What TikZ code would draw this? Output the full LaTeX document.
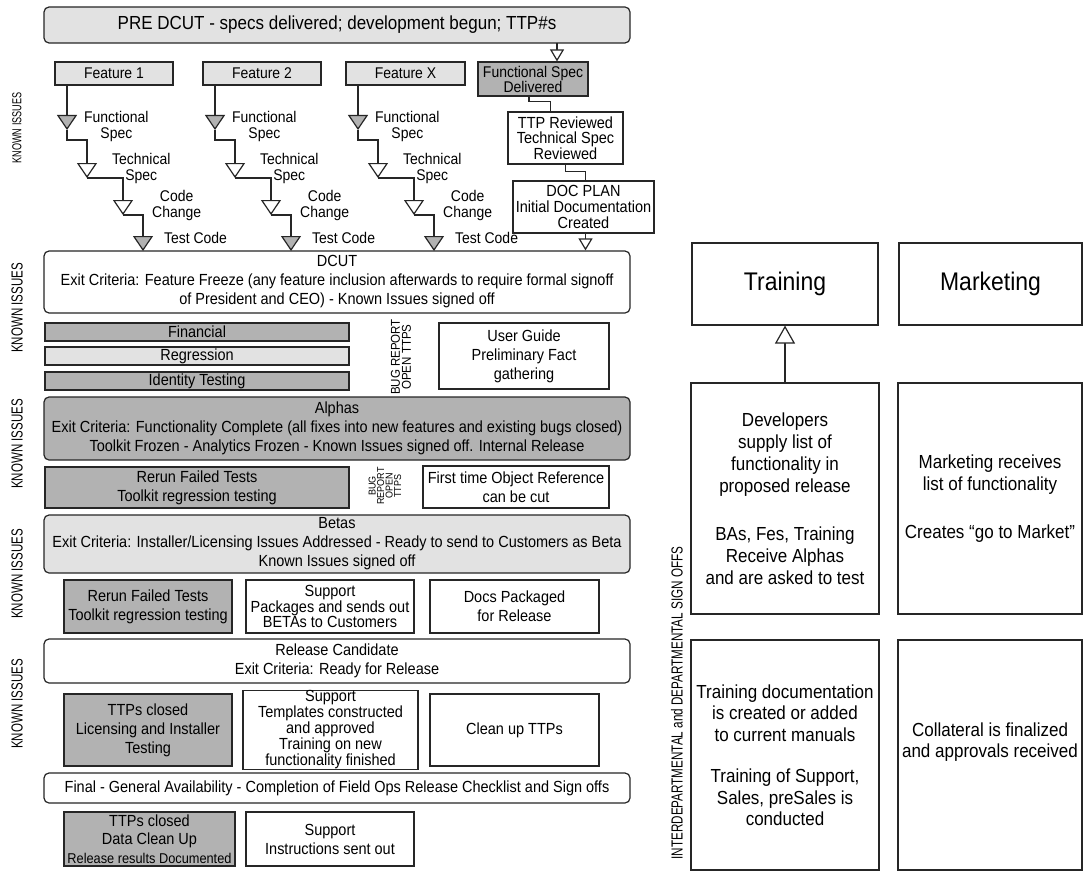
\documentclass[tikz,border=0pt]{standalone}
\usepackage{fontspec}
\usepackage{graphicx}
\setmainfont{Liberation Sans}[FakeStretch=0.9]
\newfontfamily\plainfont{Liberation Sans}
\usetikzlibrary{arrows.meta}
\newcommand{\fs}[2]{\fontsize{#1}{#2}\selectfont}
\definecolor{lightfill}{HTML}{E2E2E2}
\definecolor{darkfill}{HTML}{B2B2B2}
\definecolor{ink}{HTML}{262626}
\newcommand{\stair}[2]{%
  \coordinate (#1s) at (#2,85);
  \coordinate (#1t1) at (#2,130);
  \coordinate (#1t2) at ({#2+20},178);
  \coordinate (#1t3) at ({#2+56},215);
  \coordinate (#1t4) at ({#2+76},251);
  \draw[grayarrow] (#1s) -- (#1t1);
  \draw[whitearrow] (#1t1) -- ++(0,10) -| (#1t2);
  \draw[whitearrow] (#1t2) -| (#1t3);
  \draw[grayarrow] (#1t3) -| (#1t4);
  \node[steplbl] (#1fs) at ({#2+17},126) {Functional\\Spec};
  \node[steplbl] (#1ts) at ({#2+45},168) {Technical\\Spec};
  \node[steplbl] (#1cc) at ({#2+85},205) {Code\\Change};
  \node[steplbl] (#1tc) at ({#2+97},238) {Test Code};
}
\begin{document}
\begin{tikzpicture}[x=1pt,y=-1pt,
  box/.style={draw=ink, line width=1.2pt, inner sep=0pt, align=center, font=\fs{16.1}{19}, text=black},
  lt/.style={fill=lightfill}, dk/.style={fill=darkfill}, wt/.style={fill=white},
  phase/.style={box, rounded corners=5pt, minimum width=586pt},
  conn/.style={draw=ink, line width=1.2pt},
  grayarrow/.style={conn, -{Triangle[length=15pt,width=20pt,fill=darkfill]}},
  whitearrow/.style={conn, -{Triangle[length=15pt,width=20pt,fill=white]}},
  openarrow/.style={conn, -{Triangle[length=12pt,width=14pt,fill=white]}},
  bigopen/.style={conn, -{Triangle[length=18pt,width=20pt,fill=white]}},
  steplbl/.style={font=\fs{15.5}{16}, align=center, anchor=west, inner sep=0pt},
  sidelbl/.style={rotate=90, inner sep=0pt, font=\plainfont\fs{16}{16}},
  rbox/.style={box, fill=white, font=\fs{18.9}{22}}
]
\fill[white] (0,0) rectangle (1084,872);
\useasboundingbox (0,0) rectangle (1084,872);

% top
\node[phase, lt, minimum height=36pt, font=\fs{18.9}{20}] (pre) at (337,25) {PRE DCUT - specs delivered; development begun; TTP\#s};
\node[box, lt, minimum width=118pt, minimum height=23pt, font=\fs{15.5}{16}] (f1) at (114,73.5) {Feature 1};
\node[box, lt, minimum width=118pt, minimum height=23pt, font=\fs{15.5}{16}] (f2) at (262,73.5) {Feature 2};
\node[box, lt, minimum width=119pt, minimum height=23pt, font=\fs{15.5}{16}] (fx) at (405.5,73.5) {Feature X};
\node[box, dk, minimum width=110pt, minimum height=34pt, font=\fs{15.5}{15}] (fsd) at (533,79) {Functional Spec\\Delivered};
\node[box, wt, minimum width=115pt, minimum height=52pt, font=\fs{16.1}{15.5}] (ttp) at (565.5,138) {TTP Reviewed\\Technical Spec\\Reviewed};
\node[box, wt, minimum width=141pt, minimum height=52pt, font=\fs{16.1}{16}] (doc) at (583.5,207) {DOC PLAN\\Initial Documentation\\Created};

\stair{f1}{67}
\stair{f2}{215}
\stair{fx}{358}

\coordinate (preout) at (557,43);
\draw[openarrow] (preout) -- (preout |- fsd.north);
\draw[conn] ([xshift=-4pt]fsd.south) |- ([xshift=-15pt,yshift=10pt]ttp.north) -- ([xshift=-15pt]ttp.north);
\draw[conn] (ttp.south) |- ([xshift=2pt,yshift=9pt]doc.north) -- ([xshift=2pt]doc.north);
\coordinate (docout) at (585.5,233);

% DCUT
\node[phase, wt, minimum height=62pt] (dcut) at (337,282) {DCUT\\Exit Criteria: Feature Freeze (any feature inclusion afterwards to require formal signoff\\of President and CEO) - Known Issues signed off};
\draw[openarrow] (docout) -- (docout |- dcut.north);

\node[box, dk, minimum width=304pt, minimum height=18pt] (fin) at (197,332) {Financial};
\node[box, lt, minimum width=304pt, minimum height=18pt] (reg) at (197,356) {Regression};
\node[box, dk, minimum width=304pt, minimum height=18pt] (idt) at (197,381) {Identity Testing};
\node[rotate=90, inner sep=0pt, align=center, font=\fs{12.8}{11}] (bug1) at (401,357) {BUG REPORT\\OPEN TTPS};
\node[box, wt, minimum width=170pt, minimum height=66pt] (ug) at (524,356) {User Guide\\Preliminary Fact\\gathering};

% Alphas
\node[phase, dk, minimum height=63pt] (alpha) at (337,428.5) {Alphas\\Exit Criteria: Functionality Complete (all fixes into new features and existing bugs closed)\\Toolkit Frozen - Analytics Frozen - Known Issues signed off. Internal Release};
\node[box, dk, minimum width=304pt, minimum height=41pt] (rerun1) at (197,487.5) {Rerun Failed Tests\\Toolkit regression testing};
\node[rotate=90, inner sep=0pt, align=center, font=\fs{10}{8.5}] (bug2) at (385,486) {BUG\\REPORT\\OPEN\\TTPS};
\node[box, wt, minimum width=186pt, minimum height=42pt] (ftor) at (516,487) {First time Object Reference\\can be cut};

% Betas
\node[phase, lt, minimum height=58pt] (beta) at (337,544) {Betas\\Exit Criteria: Installer/Licensing Issues Addressed - Ready to send to Customers as Beta\\Known Issues signed off};
\node[box, dk, minimum width=168pt, minimum height=53pt] (rerun2) at (148,606.5) {Rerun Failed Tests\\Toolkit regression testing};
\node[box, wt, minimum width=168pt, minimum height=53pt, font=\fs{16.1}{15.5}] (supp1) at (330,606.5) {Support\\Packages and sends out\\BETAs to Customers};
\node[box, wt, minimum width=169pt, minimum height=53pt] (docs) at (514.5,606.5) {Docs Packaged\\for Release};

% Release candidate
\node[phase, wt, minimum height=44pt] (rc) at (337,661) {Release Candidate\\Exit Criteria: Ready for Release};
\node[box, dk, minimum width=168pt, minimum height=72pt] (ttpc) at (148,730) {TTPs closed\\Licensing and Installer\\Testing};
\node[box, wt, minimum width=175pt, minimum height=72pt, font=\fs{16.1}{14.7}] (supp2) at (330.5,730) {Support\\Templates constructed\\and approved\\Training on new\\functionality finished};
\node[box, wt, minimum width=169pt, minimum height=72pt] (clean) at (514.5,730) {Clean up TTPs};

% Final
\node[phase, wt, minimum height=30pt] (final) at (337,788) {Final - General Availability - Completion of Field Ops Release Checklist and Sign offs};
\node[box, dk, minimum width=171pt, minimum height=54pt, font=\fs{16.1}{18.5}] (ttpd) at (149.5,839) {TTPs closed\\Data Clean Up\\{\fs{14.2}{18.5}Release results Documented}};
\node[box, wt, minimum width=168pt, minimum height=54pt] (supp3) at (330,839) {Support\\Instructions sent out};

% left labels
\node[sidelbl, font=\plainfont\fs{13}{13}] (ki1) at (17,128) {\scalebox{0.7}[1]{KNOWN ISSUES}};
\node[sidelbl] (ki2) at (17,308) {\scalebox{0.72}[1]{KNOWN ISSUES}};
\node[sidelbl] (ki3) at (17,444) {\scalebox{0.72}[1]{KNOWN ISSUES}};
\node[sidelbl] (ki4) at (17,574) {\scalebox{0.72}[1]{KNOWN ISSUES}};
\node[sidelbl] (ki5) at (17,704) {\scalebox{0.72}[1]{KNOWN ISSUES}};

% right side
\node[sidelbl] (sign) at (677,703) {\scalebox{0.73}[1]{INTERDEPARTMENTAL and DEPARTMENTAL SIGN OFFS}};
\node[rbox, minimum width=186pt, minimum height=82pt, font=\fs{25.5}{26}] (train) at (785,284) {Training};
\node[rbox, minimum width=183pt, minimum height=82pt, font=\fs{25.5}{26}] (mkt) at (990.5,284) {Marketing};
\node[rbox, minimum width=188pt, minimum height=231pt] (dev) at (785,498.5) {Developers\\supply list of\\functionality in\\proposed release\\[26pt]BAs, Fes, Training\\Receive Alphas\\and are asked to test};
\node[rbox, minimum width=184pt, minimum height=231pt] (mrec) at (990,498.5) {Marketing receives\\list of functionality\\[26pt]Creates “go to Market”};
\node[rbox, minimum width=188pt, minimum height=230pt, font=\fs{18.9}{21.5}] (tdoc) at (785,755) {Training documentation\\is created or added\\to current manuals\\[20pt]Training of Support,\\Sales, preSales is\\conducted};
\node[rbox, minimum width=184pt, minimum height=230pt, font=\fs{18.9}{21}] (coll) at (990,755) {Collateral is finalized\\and approvals received\\[9pt]\mbox{}};
\draw[bigopen] (dev.north) -- (train.south);
\end{tikzpicture}
\end{document}
